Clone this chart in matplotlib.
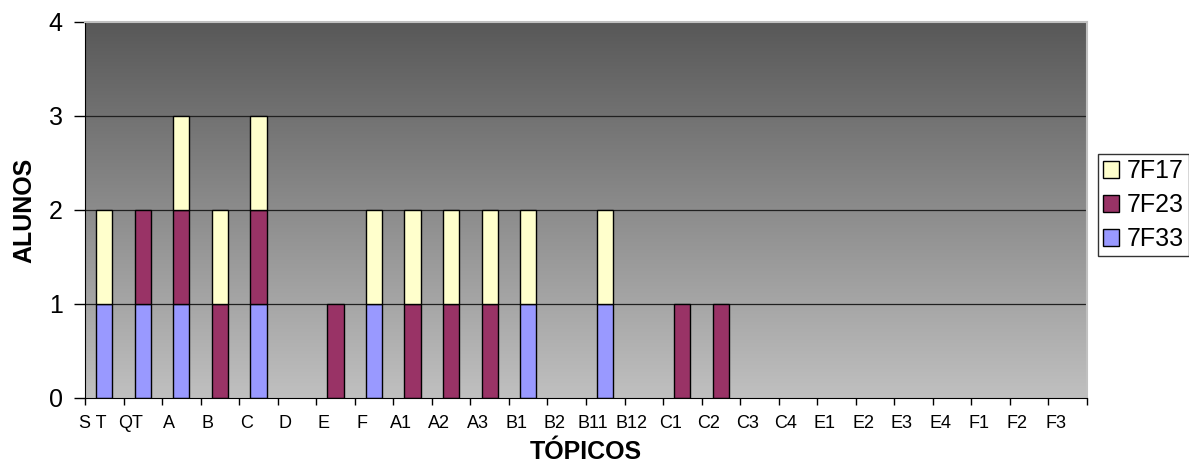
import numpy as np
import matplotlib.pyplot as plt
from matplotlib.colors import LinearSegmentedColormap
from matplotlib.transforms import ScaledTranslation

topicos = ["S T", "QT", "A", "B", "C", "D", "E", "F", "A1", "A2", "A3", "B1",
           "B2", "B11", "B12", "C1", "C2", "C3", "C4", "E1", "E2", "E3", "E4",
           "F1", "F2", "F3"]
t7f33 = [1, 1, 1, 0, 1, 0, 0, 1, 0, 0, 0, 1, 0, 1, 0, 0, 0, 0, 0, 0, 0, 0, 0, 0, 0, 0]
t7f23 = [0, 1, 1, 1, 1, 0, 1, 0, 1, 1, 1, 0, 0, 0, 0, 1, 1, 0, 0, 0, 0, 0, 0, 0, 0, 0]
t7f17 = [1, 0, 1, 1, 1, 0, 0, 1, 1, 1, 1, 1, 0, 1, 0, 0, 0, 0, 0, 0, 0, 0, 0, 0, 0, 0]

plt.rcParams['font.family'] = ['Liberation Sans', 'DejaVu Sans']

fig = plt.figure(figsize=(11.89, 4.67), dpi=100)
ax = fig.add_axes([0.0715, 0.1478, 0.8427, 0.8051])

n = len(topicos)
x = np.arange(n)

# grey gradient background, dark at the top
grad = LinearSegmentedColormap.from_list("bg", ["#c0c0c0", "#585858"])
ax.imshow(np.linspace(0, 1, 256).reshape(-1, 1), cmap=grad, origin="lower",
          aspect="auto", extent=(-0.5, n - 0.5, 0, 4), zorder=0)

for yv in [1, 2, 3]:
    ax.axhline(yv, color="#202020", lw=0.9, zorder=1)


def stack(vals, base, color, label):
    vals = np.array(vals)
    keep = vals > 0
    ax.bar(x[keep], vals[keep], 0.42, bottom=base[keep], color=color,
           edgecolor="black", lw=1, label=label, zorder=2)
    return base + vals


base = np.zeros(n)
base = stack(t7f33, base, "#9999ff", "7F33")
base = stack(t7f23, base, "#993366", "7F23")
base = stack(t7f17, base, "#ffffcc", "7F17")

ax.set_xlim(-0.5, n - 0.5)
ax.set_ylim(0, 4)
ax.set_yticks([0, 1, 2, 3, 4])
ax.tick_params(axis="y", labelsize=18, length=8, width=1, direction="out", pad=8)

# ticks sit on category boundaries, labels in between
ax.set_xticks(np.arange(n + 1) - 0.5)
ax.set_xticklabels([])
ax.set_xticks(x, minor=True)
ax.set_xticklabels(topicos, minor=True, fontsize=13)
ax.tick_params(axis="x", which="major", length=5, width=1, direction="out")
ax.tick_params(axis="x", which="minor", length=0, pad=12)
shift = ScaledTranslation(-12 / 100, 0, fig.dpi_scale_trans)
for lab in ax.get_xticklabels(minor=True):
    lab.set_transform(lab.get_transform() + shift)

for side in ["top", "right"]:
    ax.spines[side].set_color("#c0c0c0")
    ax.spines[side].set_linewidth(1.5)
ax.spines["left"].set_color("black")
ax.spines["bottom"].set_color("black")

ax.set_ylabel("ALUNOS", fontsize=18, fontweight="bold", labelpad=9)
ax.set_xlabel("TÓPICOS", fontsize=18, fontweight="bold", labelpad=6)

handles, labels = ax.get_legend_handles_labels()
leg = fig.legend(handles[::-1], labels[::-1], loc="upper left",
                 bbox_to_anchor=(1098 / 1189, 1 - 154 / 467), fontsize=18,
                 frameon=True, fancybox=False, edgecolor="black",
                 handlelength=0.65, handleheight=0.65, handletextpad=0.3,
                 labelspacing=0.4, borderpad=0.2, borderaxespad=0)
leg.get_frame().set_linewidth(1)

fig.savefig("out.png", dpi=100)
